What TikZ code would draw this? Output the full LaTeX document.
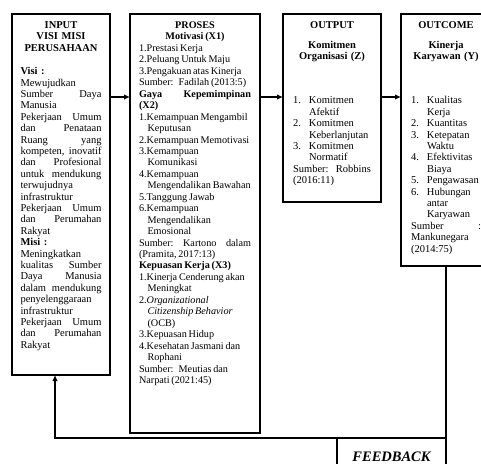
\documentclass[tikz,border=0pt]{standalone}
\usepackage{fontspec}
\setmainfont{Liberation Serif}
\usetikzlibrary{positioning,arrows.meta}

% line helpers for the panel texts
\newcommand{\ctrline}[1]{\makebox[\linewidth]{#1}}
\newcommand{\numitem}[2]{\makebox[16pt][l]{#1}#2}
\newcommand{\itemcont}{\hspace*{16pt}}
\newcommand{\subcont}{\hspace*{8.5pt}}
\newcommand{\tightspace}{\spaceskip=1.8pt plus 1pt minus .5pt\relax}

\begin{document}
\begin{tikzpicture}[
     x=1pt, y=1pt,
     % define styles
     panel/.style={
         draw,
         line width=1.2pt,
         anchor=north west,
         outer sep=0pt,
         align=left,
         inner xsep=10pt,
         inner ysep=6.5pt,
         text height=8pt,
         font=\fontsize{10.5}{11.4}\selectfont
     },
     fbbox/.style={
         draw,
         line width=1.2pt,
         anchor=north east,
         outer sep=0pt,
         align=center,
         text width=89pt,
         inner xsep=10pt,
         inner ysep=12pt,
         text height=11pt,
         text depth=30pt,
         font=\fontsize{14.5}{16}\selectfont\bfseries\itshape
     },
     link/.style={line width=1.2pt},
     >={Latex[length=6pt,width=5.5pt]}
]
\useasboundingbox (0,0) rectangle (481,-463);
\clip (0,0) rectangle (481,-463);

% level of the forward arrows and corner of the feedback line
\coordinate (lvl) at (0,-97);
\coordinate (fbturn) at (55,-438);

% input panel
\node[panel, text width=81pt, inner xsep=8.5pt, text depth=340pt] (input) at (12,-14) {%
\ctrline{\textbf{INPUT}}\\
\ctrline{\textbf{VISI MISI}}\\
\ctrline{\textbf{PERUSAHAAN}}\\[12pt]
\textbf{Visi :}\\
Mewujudkan\\
Sumber\hfill Daya\\
Manusia\\
Pekerjaan\hfill Umum\\
dan\hfill Penataan\\
Ruang\hfill yang\\
kompeten,\hfill inovatif\\
dan\hfill Profesional\\
untuk\hfill mendukung\\
terwujudnya\\
infrastruktur\\
Pekerjaan\hfill Umum\\
dan\hfill Perumahan\\
Rakyat\\
\textbf{Misi :}\\
Meningkatkan\\
kualitas\hfill Sumber\\
Daya\hfill Manusia\\
dalam\hfill mendukung\\
penyelenggaraan\\
infrastruktur\\
Pekerjaan\hfill Umum\\
dan\hfill Perumahan\\
Rakyat};

% process panel
\node[panel, text width=112pt, inner xsep=9pt, text depth=398pt,
      font=\fontsize{10.2}{11.45}\selectfont,
      right=20pt of input.north east, anchor=north west] (proses) {%
\tightspace
\ctrline{\textbf{PROSES}}\\
\ctrline{\textbf{Motivasi (X1)}}\\
1.Prestasi Kerja\\
2.Peluang Untuk Maju\\
3.Pengakuan atas Kinerja\\
Sumber: Fadilah (2013:5)\\
\textbf{Gaya\hfill Kepemimpinan}\\
\textbf{(X2)}\\
1.Kemampuan Mengambil\\
\subcont Keputusan\\
\mbox{2.Kemampuan Memotivasi}\\
3.Kemampuan\\
\subcont Komunikasi\\
4.Kemampuan\\
\subcont\mbox{Mengendalikan Bawahan}\\
5.Tanggung Jawab\\
6.Kemampuan\\
\subcont Mengendalikan\\
\subcont Emosional\\
Sumber:\hfill Kartono\hfill dalam\\
(Pramita, 2017:13)\\
\textbf{Kepuasan Kerja (X3)}\\
1.Kinerja Cenderung akan\\
\subcont Meningkat\\
2.\textit{Organizational}\\
\subcont\textit{Citizenship Behavior}\\
\subcont(OCB)\\
3.Kepuasan Hidup\\
4.Kesehatan Jasmani dan\\
\subcont Rophani\\
Sumber: Meutias dan\\
Narpati (2021:45)};

% output panel
\node[panel, text width=78pt, text depth=167pt,
      right=23pt of proses.north east, anchor=north west] (output) {%
\ctrline{\textbf{OUTPUT}}\\[8.6pt]
\ctrline{\textbf{Komitmen}}\\
\ctrline{\textbf{Organisasi (Z)}}\\[32.6pt]
\numitem{1.}{Komitmen}\\
\itemcont Afektif\\
\numitem{2.}{Komitmen}\\
\itemcont Keberlanjutan\\
\numitem{3.}{Komitmen}\\
\itemcont Normatif\\
Sumber:\hfill Robbins\\
(2016:11)};

% outcome panel
\node[panel, text width=70pt, text depth=231pt,
      right=20pt of output.north east, anchor=north west] (outcome) {%
\ctrline{\textbf{OUTCOME}}\\[8.6pt]
\ctrline{\textbf{Kinerja}}\\
\ctrline{\textbf{Karyawan (Y)}}\\[32.6pt]
\numitem{1.}{Kualitas}\\
\itemcont Kerja\\
\numitem{2.}{Kuantitas}\\
\numitem{3.}{Ketepatan}\\
\itemcont Waktu\\
\numitem{4.}{Efektivitas}\\
\itemcont Biaya\\
\numitem{5.}{Pengawasan}\\
\numitem{6.}{Hubungan}\\
\itemcont antar\\
\itemcont Karyawan\\
Sumber\hfill :\\
Mankunegara\\
(2014:75)};

% feedback box below the outcome
\node[fbbox] (feedback) at (outcome.south |- fbturn) {FEEDBACK};

% forward arrows between the panels
\foreach \a/\b in {input/proses, proses/output, output/outcome}
    \draw[link,->] (\a.east |- lvl) -- (\b.west |- lvl);

% feedback line back to the input
\draw[link] (outcome.south) -- (feedback.north east);
\draw[link,->] (feedback.north east) -- (fbturn) -- (fbturn |- input.south);
\end{tikzpicture}
\end{document}
